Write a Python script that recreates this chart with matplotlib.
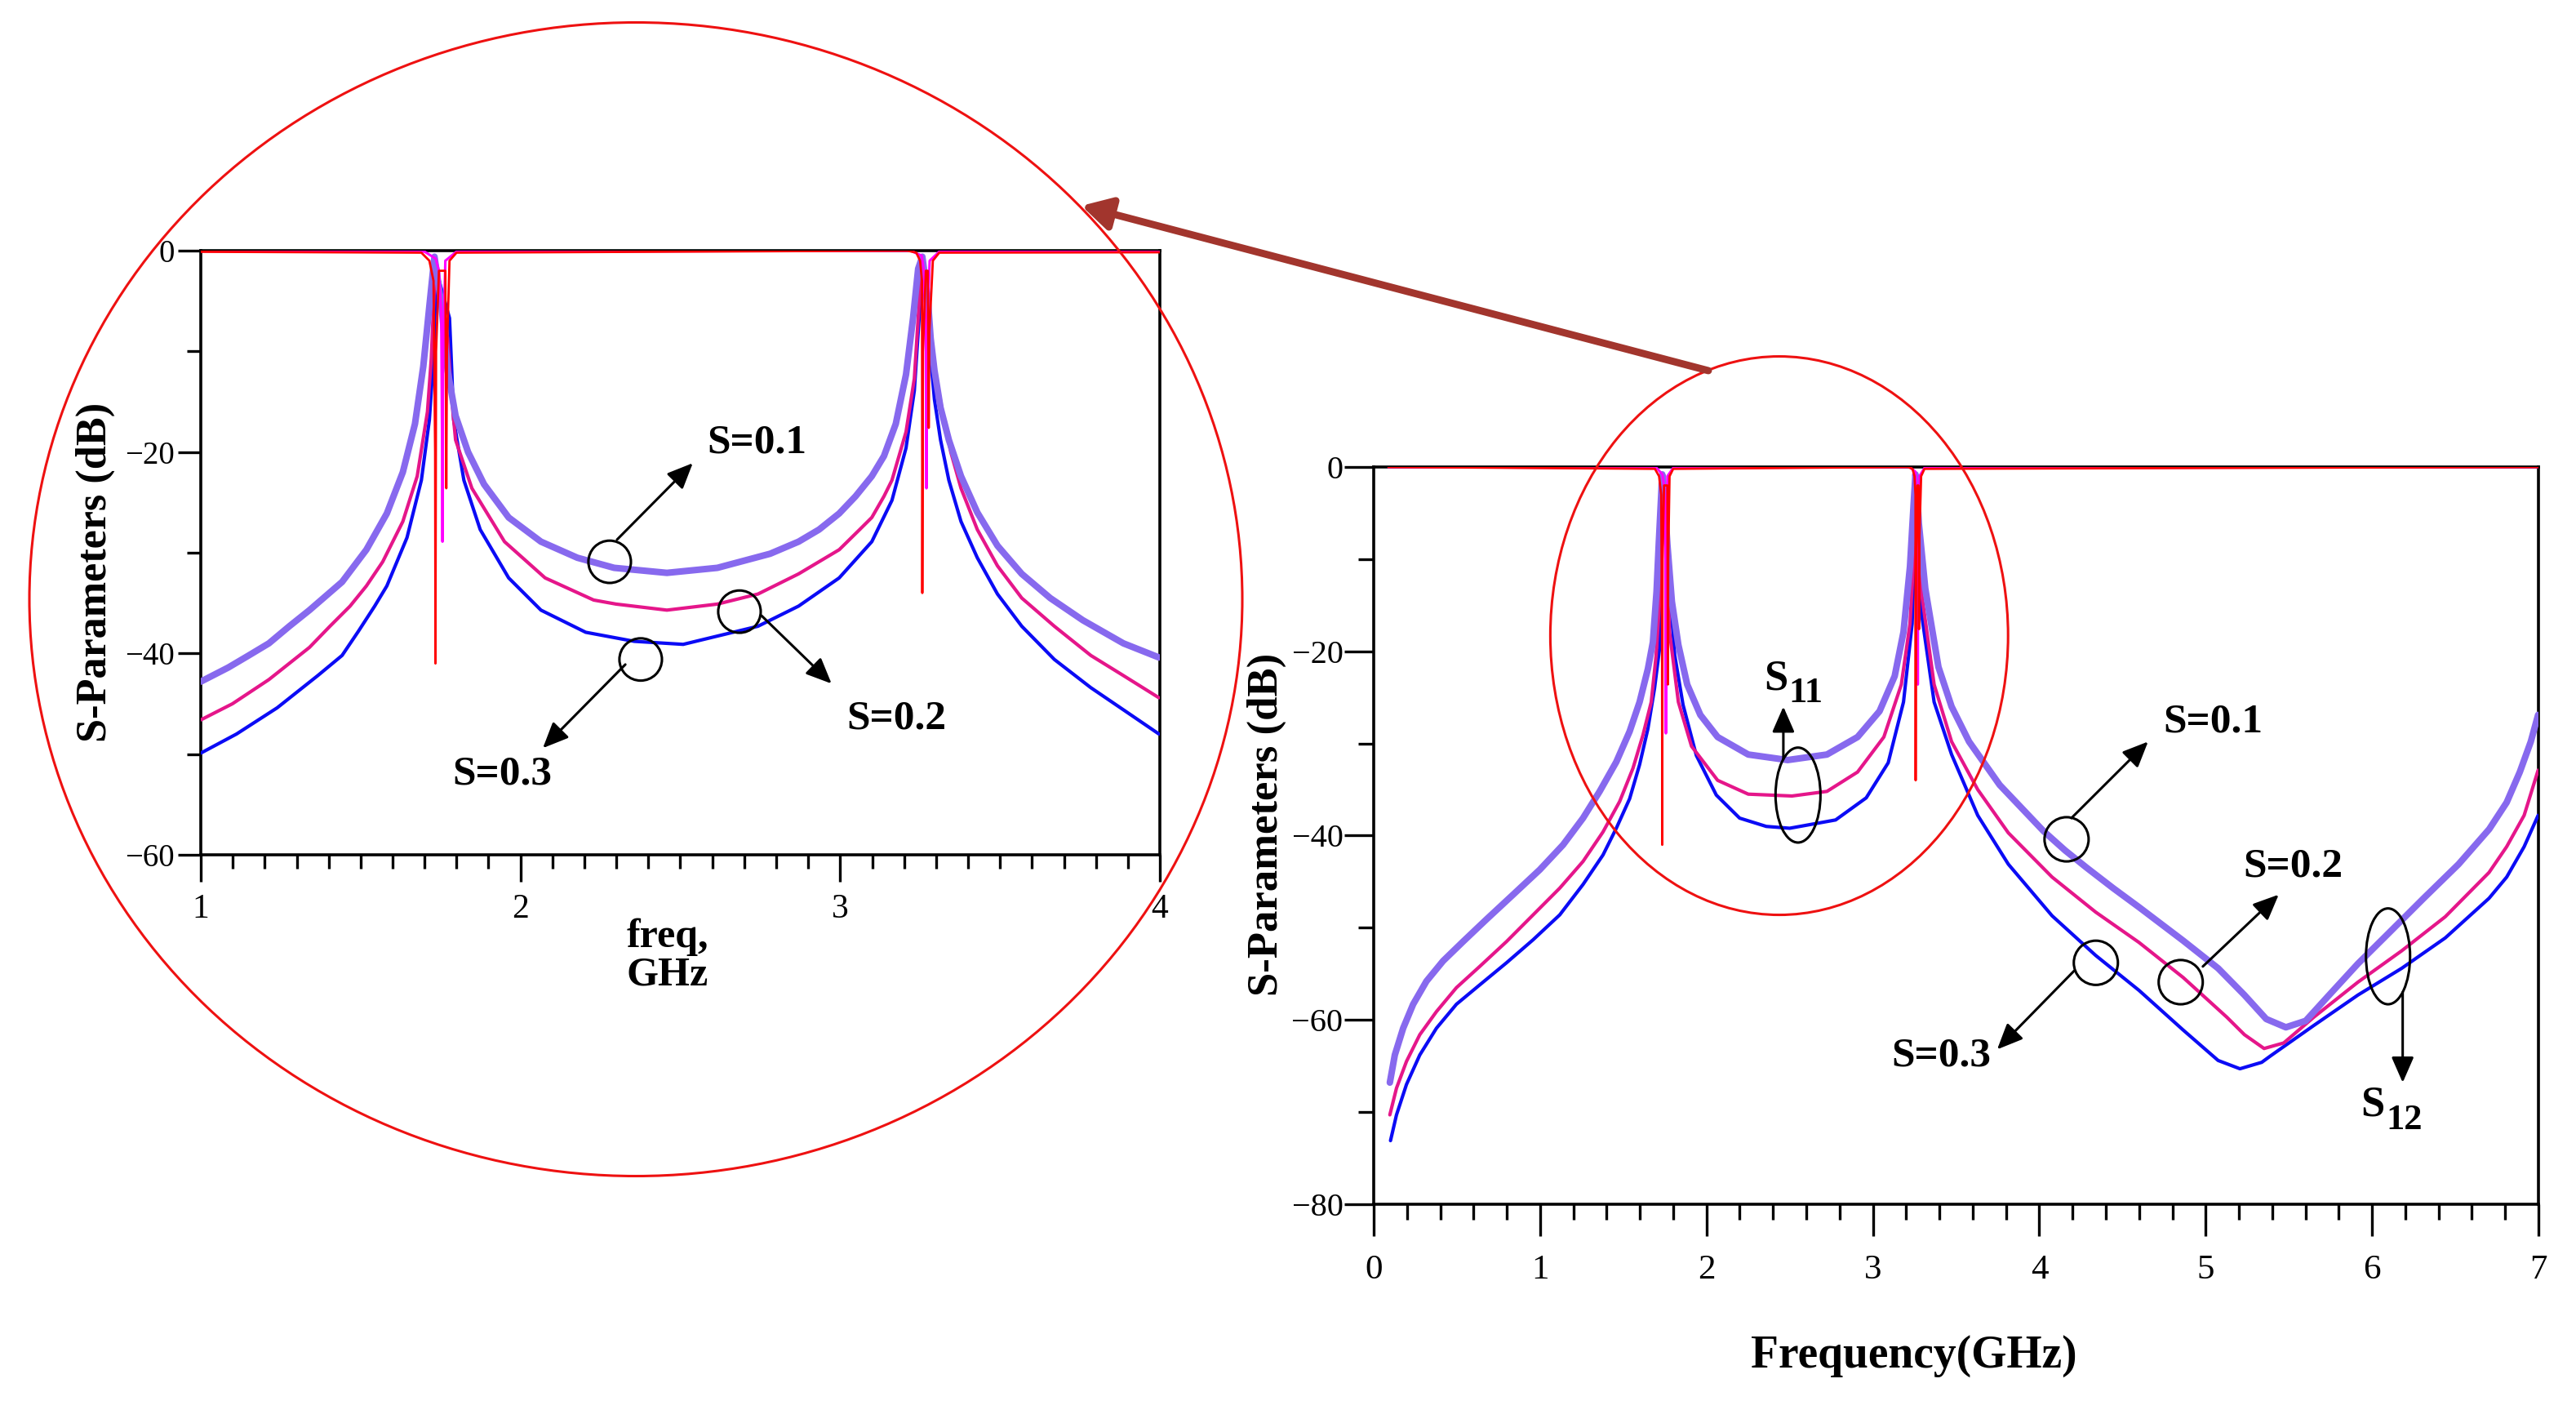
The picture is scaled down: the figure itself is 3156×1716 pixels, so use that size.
import matplotlib.pyplot as plt
from matplotlib.patches import Ellipse
from matplotlib.ticker import MultipleLocator

# ---- curve data (GHz, dB) ----
# full-band panel (right)
f_main_s01 = [0.097, 0.127, 0.177, 0.237, 0.317, 0.417, 0.537, 0.677, 0.838, 0.998, 1.138,
              1.258, 1.358, 1.458, 1.538, 1.598, 1.648, 1.678, 1.700, 1.713, 1.734, 1.748,
              1.765, 1.792, 1.831, 1.884, 1.963, 2.067, 2.251, 2.488, 2.724, 2.908, 3.04,
              3.131, 3.184, 3.223, 3.245, 3.256, 3.266, 3.276, 3.315, 3.394, 3.473, 3.578,
              3.762, 4.025, 4.155, 4.286, 4.444, 4.602, 4.865, 5.075, 5.233, 5.364, 5.482,
              5.601, 5.732, 5.915, 6.099, 6.31, 6.52, 6.704, 6.809, 6.888, 6.954, 6.998]
db_main_s01 = [-66.8, -63.8, -60.9, -58.3, -55.8, -53.6, -51.5, -49.1, -46.4, -43.7, -41.0,
               -38.1, -35.2, -32.0, -28.7, -25.5, -21.9, -19.0, -13.5, -8.4, -0.8, -3.5,
               -8.4, -14.6, -19.3, -23.6, -26.9, -29.3, -31.2, -31.8, -31.2, -29.3, -26.5,
               -22.7, -17.9, -10.8, -4.0, -0.8, -3.0, -6.1, -13.2, -21.7, -26.0, -29.8,
               -34.5, -39.5, -41.6, -43.5, -45.7, -47.8, -51.4, -54.4, -57.3, -59.9, -60.8,
               -60.1, -57.5, -53.9, -50.6, -46.8, -43.1, -39.3, -36.4, -33.1, -29.8, -26.9]

f_main_s02 = [0.097, 0.137, 0.197, 0.277, 0.377, 0.497, 0.637, 0.798, 0.958, 1.118, 1.258,
              1.378, 1.478, 1.558, 1.618, 1.668, 1.697, 1.718, 1.729, 1.734, 1.748, 1.778,
              1.831, 1.91, 2.067, 2.251, 2.514, 2.724, 2.908, 3.066, 3.171, 3.223, 3.25,
              3.257, 3.266, 3.289, 3.368, 3.473, 3.63, 3.814, 4.077, 4.339, 4.60, 4.865,
              5.127, 5.233, 5.351, 5.469, 5.65, 5.915, 6.178, 6.44, 6.703, 6.809, 6.914, 6.998]
db_main_s02 = [-70.3, -67.4, -64.5, -61.6, -59.1, -56.5, -54.2, -51.5, -48.6, -45.7, -42.8,
               -39.6, -36.3, -32.7, -29.1, -25.5, -20.5, -14.6, -8.4, -1.0, -5.0, -17.9,
               -25.5, -30.3, -34.0, -35.5, -35.7, -35.2, -33.1, -29.3, -23.6, -17.0, -8.4,
               -1.0, -6.0, -13.2, -23.6, -29.8, -35.0, -39.7, -44.5, -48.3, -51.6, -55.4,
               -59.7, -61.6, -63.1, -62.5, -59.7, -55.9, -52.5, -48.8, -44.0, -41.2, -37.8, -32.9]

f_main_s03 = [0.101, 0.137, 0.197, 0.277, 0.377, 0.497, 0.637, 0.798, 0.958, 1.118, 1.258,
              1.378, 1.458, 1.538, 1.598, 1.648, 1.688, 1.718, 1.725, 1.731, 1.736, 1.765,
              1.809, 1.859, 1.939, 2.059, 2.199, 2.359, 2.50, 2.776, 2.96, 3.092, 3.184,
              3.236, 3.252, 3.258, 3.27, 3.289, 3.368, 3.473, 3.63, 3.814, 4.077, 4.339,
              4.60, 4.865, 5.075, 5.206, 5.337, 5.39, 5.65, 5.915, 6.178, 6.44, 6.703,
              6.809, 6.914, 6.998]
db_main_s03 = [-73.1, -70.3, -67.0, -63.8, -60.9, -58.3, -56.2, -53.8, -51.3, -48.6, -45.3,
               -42.1, -39.2, -36.0, -32.3, -28.4, -24.0, -19.7, -14.6, -8.0, -2.5, -10.0,
               -20.4, -25.8, -31.3, -35.6, -38.1, -39.0, -39.2, -38.3, -35.9, -32.1, -25.5,
               -17.0, -8.0, -2.5, -8.0, -15.5, -25.5, -31.2, -37.8, -43.1, -48.7, -53.0,
               -56.8, -61.1, -64.4, -65.3, -64.6, -63.9, -60.6, -57.3, -54.4, -51.1, -46.8,
               -44.5, -41.2, -37.8]

# magnified panel (left)
f_zoom_s01 = [1.0, 1.086, 1.150, 1.213, 1.277, 1.34, 1.442, 1.518, 1.582, 1.632, 1.670,
              1.696, 1.715, 1.731, 1.753, 1.772, 1.797, 1.836, 1.886, 1.963, 2.064, 2.178,
              2.293, 2.458, 2.616, 2.781, 2.870, 2.934, 2.997, 3.048, 3.099, 3.137, 3.174,
              3.206, 3.228, 3.244, 3.257, 3.274, 3.283, 3.295, 3.314, 3.340, 3.378, 3.429,
              3.492, 3.568, 3.657, 3.759, 3.886, 3.997]
db_zoom_s01 = [-42.8, -41.4, -40.2, -39.0, -37.3, -35.7, -32.9, -29.7, -26.1, -22.0, -17.2,
               -11.5, -5.5, -0.6, -5.5, -11.9, -16.4, -20.0, -23.2, -26.5, -28.9, -30.5,
               -31.5, -32.0, -31.5, -30.1, -28.9, -27.7, -26.1, -24.4, -22.4, -20.4, -17.2,
               -12.3, -6.7, -1.8, -0.6, -4.7, -8.7, -11.9, -15.6, -18.8, -22.4, -26.0,
               -29.3, -32.1, -34.5, -36.7, -39.0, -40.4]

f_zoom_s02 = [1.0, 1.099, 1.213, 1.340, 1.404, 1.467, 1.518, 1.569, 1.632, 1.677, 1.709,
              1.721, 1.729, 1.733, 1.772, 1.785, 1.797, 1.848, 1.950, 2.077, 2.229, 2.299,
              2.458, 2.616, 2.743, 2.870, 2.997, 3.061, 3.099, 3.137, 3.162, 3.206, 3.232,
              3.244, 3.255, 3.301, 3.320, 3.346, 3.378, 3.429, 3.492, 3.568, 3.670, 3.784,
              3.886, 3.997]
db_zoom_s02 = [-46.6, -45.0, -42.6, -39.4, -37.3, -35.3, -33.3, -30.9, -26.9, -22.4, -16.0,
               -10.7, -4.7, -1.0, -8.7, -14.8, -18.8, -23.6, -28.9, -32.5, -34.7, -35.1,
               -35.7, -35.1, -34.1, -32.1, -29.7, -27.7, -26.5, -24.4, -22.8, -18.0, -12.7,
               -6.7, -1.0, -12.7, -16.0, -20.0, -23.6, -27.7, -31.3, -34.5, -37.3, -40.2,
               -42.2, -44.4]

f_zoom_s03 = [1.0, 1.112, 1.239, 1.366, 1.442, 1.493, 1.544, 1.582, 1.645, 1.690, 1.715,
              1.728, 1.734, 1.737, 1.778, 1.785, 1.791, 1.823, 1.874, 1.963, 2.064, 2.204,
              2.356, 2.509, 2.743, 2.870, 2.997, 3.099, 3.162, 3.206, 3.232, 3.247, 3.258,
              3.295, 3.314, 3.340, 3.378, 3.429, 3.492, 3.568, 3.670, 3.784, 3.886, 3.997]
db_zoom_s03 = [-49.9, -48.0, -45.4, -42.2, -40.2, -37.8, -35.3, -33.3, -28.5, -22.8, -16.8,
               -10.7, -4.7, -2.0, -6.7, -11.9, -16.8, -22.8, -27.7, -32.5, -35.7, -37.9,
               -38.8, -39.1, -37.3, -35.3, -32.5, -28.9, -24.8, -19.6, -13.9, -6.7, -2.0,
               -14.8, -18.8, -22.8, -26.9, -30.5, -34.1, -37.3, -40.6, -43.4, -45.6, -48.0]

# transmission traces near 0 dB with their narrow notches (same in both panels)
freq_red = [0.09, 1.69, 1.715, 1.728, 1.733, 1.734, 1.736, 1.745, 1.765, 1.767, 1.768,
            1.770, 1.778, 1.80, 3.21, 3.238, 3.250, 3.256, 3.257, 3.259, 3.268, 3.274,
            3.276, 3.277, 3.279, 3.29, 3.31, 7.0]
db_red = [0, -0.2, -1.0, -3.0, -20, -41, -10, -2.0, -2.0, -15, -23.6,
          -10, -1.0, -0.2, 0, -0.2, -1.0, -3.0, -34, -10, -2.0, -2.0,
          -10, -17.6, -8, -1.0, -0.2, 0]

freq_mag = [0.09, 1.70, 1.735, 1.745, 1.752, 1.755, 1.756, 1.758, 1.765, 1.80, 3.22,
            3.255, 3.262, 3.268, 3.270, 3.272, 3.28, 3.31, 7.0]
db_mag = [0, -0.1, -0.8, -2.0, -6.0, -20, -28.9, -10, -1.0, -0.1, 0,
          -0.5, -2.0, -10, -23.6, -8, -1.0, -0.1, 0]

plt.rcParams['font.family'] = ['Liberation Serif', 'DejaVu Serif']

W, H = 3156, 1716
fig = plt.figure(figsize=(W / 200, H / 200), dpi=200)


def px_box(l, t, r, b):
    return [l / W, 1 - b / H, (r - l) / W, (b - t) / H]


ax_zoom = fig.add_axes(px_box(246, 307, 1421, 1047))
ax_main = fig.add_axes(px_box(1683, 572, 3110, 1475))


def draw_curves(ax, s01, s02, s03):
    kw = dict(solid_joinstyle='round', solid_capstyle='round')
    ax.plot(*s03, color='#0b0bf5', lw=1.5, zorder=3, **kw)
    ax.plot(*s02, color='#e5168a', lw=1.5, zorder=3, **kw)
    ax.plot(*s01, color='#8769ee', lw=2.9, zorder=4, **kw)
    ax.plot(freq_mag, db_mag, color='#ff00ff', lw=1.1, zorder=5)
    ax.plot(freq_red, db_red, color='#ff0000', lw=1.0, zorder=6)
    for s in ax.spines.values():
        s.set_linewidth(1.3)


def circ(ax, x, y, w, h):
    ax.add_patch(Ellipse((x, y), w, h, fill=False, ec='k', lw=1.1, zorder=8, clip_on=False))


def arrow(ax, x0, y0, x1, y1):
    ax.annotate('', xy=(x1, y1), xytext=(x0, y0), annotation_clip=False, zorder=8,
                arrowprops=dict(arrowstyle='-|>,head_length=0.8,head_width=0.35',
                                mutation_scale=12, lw=1.1, color='k',
                                shrinkA=0, shrinkB=0))


def label(ax, x, y, s):
    ax.text(x, y, s, fontsize=18.5, fontweight='bold', ha='center', va='center', zorder=9)


def sub_label(ax, x, y, main, sub):
    # x, y: right edge / baseline of the main letter
    ax.text(x, y, main, fontsize=19, fontweight='bold', ha='right', va='baseline', zorder=9)
    ax.annotate(sub, xy=(x, y), xytext=(0.5, -5.8), textcoords='offset points',
                fontsize=16, fontweight='bold', ha='left', va='baseline', zorder=9)


# ---- magnified panel (left) ----
draw_curves(ax_zoom, (f_zoom_s01, db_zoom_s01), (f_zoom_s02, db_zoom_s02),
            (f_zoom_s03, db_zoom_s03))
ax_zoom.set_xlim(1, 4)
ax_zoom.set_ylim(-60, 0)
ax_zoom.xaxis.set_major_locator(MultipleLocator(1))
ax_zoom.xaxis.set_minor_locator(MultipleLocator(0.1))
ax_zoom.yaxis.set_major_locator(MultipleLocator(20))
ax_zoom.yaxis.set_minor_locator(MultipleLocator(10))
ax_zoom.tick_params(axis='x', which='major', direction='out', length=12, width=1.2, labelsize=15, pad=5)
ax_zoom.tick_params(axis='y', which='major', direction='out', length=10, width=1.2, labelsize=14, pad=1.5)
ax_zoom.tick_params(which='minor', direction='out', length=6, width=1.2)
ax_zoom.text(-0.11, 0.468, 'S-Parameters (dB)', transform=ax_zoom.transAxes, rotation=90,
             ha='center', va='center', fontsize=18.8, fontweight='bold')
ax_zoom.text(2.46, -66.3, 'freq,\nGHz', ha='center', va='top', fontsize=18,
             fontweight='bold', linespacing=1.0)

circ(ax_zoom, 2.279, -30.9, 0.133, 4.2)
circ(ax_zoom, 2.685, -35.85, 0.133, 4.2)
circ(ax_zoom, 2.376, -40.6, 0.133, 4.2)
arrow(ax_zoom, 2.302, -28.7, 2.539, -21.1)
arrow(ax_zoom, 2.754, -36.25, 2.973, -43.0)
arrow(ax_zoom, 2.328, -41.1, 2.070, -49.4)
label(ax_zoom, 2.739, -19.1, 'S=0.1')
label(ax_zoom, 3.175, -46.5, 'S=0.2')
label(ax_zoom, 1.942, -52.0, 'S=0.3')

# ---- full-band panel (right) ----
draw_curves(ax_main, (f_main_s01, db_main_s01), (f_main_s02, db_main_s02),
            (f_main_s03, db_main_s03))
ax_main.set_xlim(0, 7)
ax_main.set_ylim(-80, 0)
ax_main.xaxis.set_major_locator(MultipleLocator(1))
ax_main.xaxis.set_minor_locator(MultipleLocator(0.2))
ax_main.yaxis.set_major_locator(MultipleLocator(20))
ax_main.yaxis.set_minor_locator(MultipleLocator(10))
ax_main.tick_params(axis='x', which='major', direction='out', length=14, width=1.2, labelsize=15.5, pad=8)
ax_main.tick_params(axis='y', which='major', direction='out', length=13, width=1.2, labelsize=14.5, pad=0.5)
ax_main.tick_params(which='minor', direction='out', length=7, width=1.2)
ax_main.text(-0.092, 0.515, 'S-Parameters (dB)', transform=ax_main.transAxes, rotation=90,
             ha='center', va='center', fontsize=19, fontweight='bold')
ax_main.text(0.464, -0.206, 'Frequency(GHz)', transform=ax_main.transAxes,
             ha='center', va='center', fontsize=20, fontweight='bold')

# S11 marker
ax_main.add_patch(Ellipse((2.550, -35.6), 0.27, 10.3, fill=False, ec='k', lw=1.1, zorder=8))
arrow(ax_main, 2.462, -31.7, 2.462, -26.0)
sub_label(ax_main, 2.487, -24.1, 'S', '11')
# S12 marker
ax_main.add_patch(Ellipse((6.096, -53.1), 0.265, 10.4, fill=False, ec='k', lw=1.1, zorder=8))
arrow(ax_main, 6.184, -57.0, 6.184, -66.8)
sub_label(ax_main, 6.076, -70.4, 'S', '12')

circ(ax_main, 4.164, -40.4, 0.265, 4.8)
circ(ax_main, 4.850, -55.9, 0.265, 4.8)
circ(ax_main, 4.340, -53.8, 0.265, 4.8)
arrow(ax_main, 4.193, -38.1, 4.654, -29.8)
arrow(ax_main, 4.983, -54.2, 5.439, -46.4)
arrow(ax_main, 4.208, -54.7, 3.747, -63.2)
label(ax_main, 5.042, -27.7, 'S=0.1')
label(ax_main, 5.527, -43.4, 'S=0.2')
label(ax_main, 3.413, -63.9, 'S=0.3')

# red ring around the passband region
ax_main.add_patch(Ellipse((2.437, -18.3), 2.751, 60.6, fill=False, ec='#ee1111',
                          lw=1.1, zorder=7, clip_on=False))

# ---- figure-level overlay: big magnifier circle and pointer arrow ----
ov = fig.add_axes([0, 0, 1, 1], zorder=10)
ov.set_xlim(0, W)
ov.set_ylim(H, 0)
ov.axis('off')
ov.patch.set_alpha(0)
ov.add_patch(Ellipse((779, 734), 1486, 1413, fill=False, ec='#ee1111', lw=1.1))
ov.annotate('', xy=(1325, 252), xytext=(2093, 454),
            arrowprops=dict(arrowstyle='-|>,head_length=0.9,head_width=0.5',
                            mutation_scale=12, lw=3.2, color='#a2352d',
                            shrinkA=0, shrinkB=0))

fig.savefig('out.png', dpi=200)
